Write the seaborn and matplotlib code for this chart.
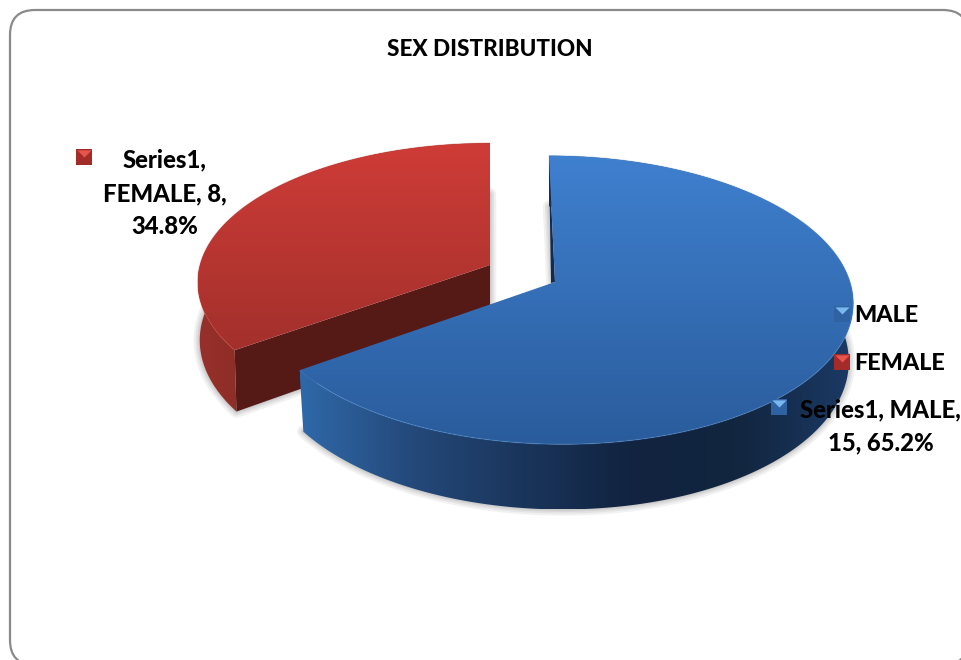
import numpy as np
import matplotlib
matplotlib.use("Agg")
import matplotlib.pyplot as plt
from matplotlib.colors import LinearSegmentedColormap
from matplotlib.patches import FancyBboxPatch, Polygon
import seaborn as sns

# Chart data
categories = ["MALE", "FEMALE"]
counts = [15, 8]
series_name = "Series1"
chart_title = "SEX DISTRIBUTION"

sns.set_theme(style="white")
plt.rcParams["font.family"] = ["Lato", "DejaVu Sans"]

fig = plt.figure(figsize=(9.62, 6.6), dpi=100, facecolor="white")
ax = fig.add_axes([0, 0, 1, 1])
ax.set_xlim(0, 962)
ax.set_ylim(660, 0)
ax.axis("off")

ax.add_patch(FancyBboxPatch((35, 35), 908, 605, boxstyle="round,pad=25,rounding_size=25",
                            fc="white", ec="#8a8a8a", lw=1.6, zorder=0))

# Perspective of the tilted disc
TILT = 0.125
SHEAR = {"MALE": 0.048, "FEMALE": 0.0}
APEX = {"MALE": (555, 282), "FEMALE": (490, 265)}
RX = {"MALE": 295, "FEMALE": 290}
RY = {"MALE": 142, "FEMALE": 137}
SHRINK = {"MALE": 0.985, "FEMALE": 0.993}
THICK = 57
TITLE_SIZE = 16.2
TEXT_SIZE = 17.2


def rim(cat, theta):
    """Screen position of the rim at clockwise angle theta (radians from 12 o'clock)."""
    cx, cy = APEX[cat]
    u, v = np.sin(theta), np.cos(theta)
    w = 1 + TILT * v
    y = RY[cat] * v / w
    return cx + RX[cat] * u / w - SHEAR[cat] * y, cy - y


def lower(cat, theta, x, y):
    """Point on the underside below a rim point."""
    w = 1 + TILT * np.cos(theta)
    return APEX[cat][0] + (x - APEX[cat][0]) * SHRINK[cat], y + THICK / w


def gradient_fill(points, colors, vertical, z):
    """Fill a polygon with a linear gradient running across its bounding box."""
    points = np.asarray(points)
    x0, y0 = points.min(axis=0)
    x1, y1 = points.max(axis=0)
    ramp = np.linspace(0, 1, 256)
    ramp = ramp[:, None] if vertical else ramp[None, :]
    cmap = LinearSegmentedColormap.from_list("face", sns.blend_palette(colors, 32))
    clip = Polygon(points, closed=True, transform=ax.transData, fc="none", ec="none")
    ax.add_patch(clip)
    im = ax.imshow(ramp, cmap=cmap, extent=(x0, x1, y1, y0), origin="upper",
                   aspect="auto", zorder=z, interpolation="bilinear")
    im.set_clip_path(clip)


styles = {
    "MALE": dict(top=["#3f80cf", "#2a5c9c"],
                 side=["#2f68a8", "#24497a", "#1a355c", "#11233f", "#12263f", "#1b3a66"],
                 cut="#122c50", rim="#4d8cd8", mark="#2f62a3", light="#79b8ee"),
    "FEMALE": dict(top=["#cf3c37", "#a3302c"],
                   side=["#96302a", "#7a2420", "#6a1e1b"],
                   cut="#561a16", rim="#c53d36", mark="#a32c29", light="#e8554f"),
}

# Angular spans follow the counts, running clockwise from 12 o'clock
total = sum(counts)
edges = 2 * np.pi * np.concatenate([[0], np.cumsum(counts)]) / total

for idx in [1, 0]:
    cat = categories[idx]
    st = styles[cat]
    z = 2 + (1 - idx) * 4
    thetas = np.linspace(edges[idx], edges[idx + 1], 240)
    top_x, top_y = rim(cat, thetas)
    low_x, low_y = lower(cat, thetas, top_x, top_y)
    apex = APEX[cat]
    apex_low = (apex[0], apex[1] + THICK)

    # Soft contact shadow around the underside
    under = np.vstack([np.column_stack([low_x, low_y]), apex_low])
    for lw in (9, 6, 3.5, 1.5):
        ax.add_patch(Polygon(under, closed=True, fc="none", ec="black", lw=lw,
                             alpha=0.055, zorder=z - 0.5, joinstyle="round"))

    # Outer wall
    wall = np.vstack([np.column_stack([top_x, top_y]),
                      np.column_stack([low_x, low_y])[::-1]])
    gradient_fill(wall, st["side"], False, z)

    # Cut faces
    if cat == "FEMALE":
        cut = [(top_x[0], top_y[0]), apex, apex_low, (low_x[0], low_y[0])]
        ax.add_patch(Polygon(cut, closed=True, fc=st["cut"], ec="none", zorder=z + 0.2))
    else:
        sliver = [(top_x[0], top_y[0]), apex, (apex[0] - 4, apex[1] + 1)]
        ax.add_patch(Polygon(sliver, closed=True, fc=st["cut"], ec="none", zorder=z + 0.2))

    # Top face and its faint bevelled rim
    face = np.vstack([np.column_stack([top_x, top_y]), apex])
    gradient_fill(face, st["top"], True, z + 0.4)
    ax.plot(top_x, top_y, color=st["rim"], lw=1.0, alpha=0.35, zorder=z + 0.6,
            solid_capstyle="butt")


def label(x, y, text, ha="center", size=TEXT_SIZE):
    ax.text(x, y, text, ha=ha, va="center", fontsize=size, fontweight=900,
            color="black", zorder=20)


def key(x, y, cat):
    """Small bevelled legend key."""
    st = styles[cat]
    ax.scatter([x], [y], marker="s", s=135, color=st["mark"], linewidth=0, zorder=19)
    ax.scatter([x], [y], marker=[(-1, 1), (1, 1), (0, 0)], s=105, color=st["light"],
               linewidth=0, zorder=19.5)


label(490, 50, chart_title, size=TITLE_SIZE)

# Legend
for cat, y in zip(categories, (315, 363)):
    key(842, y - 1, cat)
    label(854, y, cat, ha="left", size=16.8)

# Data labels
shares = [100 * c / total for c in counts]
key(779, 407, "MALE")
label(880, 410, f"{series_name}, {categories[0]},")
label(881, 443, f"{counts[0]}, {shares[0]:.1f}%")
key(84, 157, "FEMALE")
label(165, 160, f"{series_name},")
label(165, 194, f"{categories[1]}, {counts[1]},")
label(165, 226, f"{shares[1]:.1f}%")

ax.set_xlim(0, 962)
ax.set_ylim(660, 0)
fig.savefig("out.png", dpi=100)
